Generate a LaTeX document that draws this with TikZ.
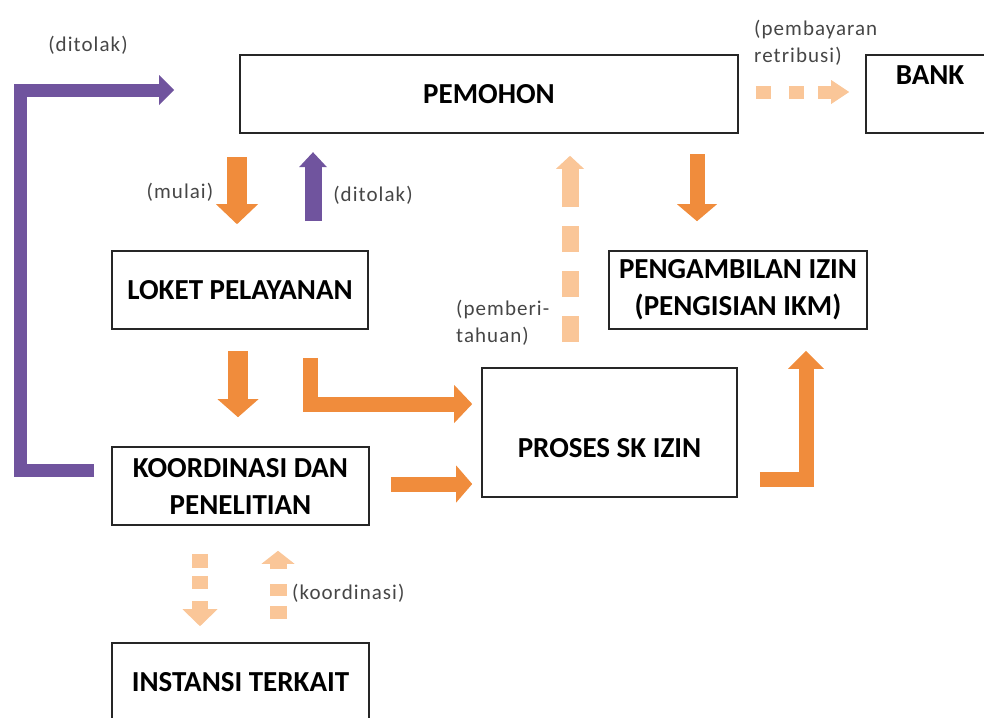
\documentclass[tikz,border=0pt]{standalone}
\usepackage{fontspec}
\usetikzlibrary{arrows.meta, positioning, calc}
\newfontfamily\diagfont{Carlito}
\newfontfamily\notefamily[LetterSpace=5]{Carlito}
\newcommand{\boxtextfont}{\diagfont\bfseries\fontsize{29}{37}\selectfont}
\newcommand{\notetextfont}{\notefamily\fontsize{21}{27}\selectfont}
\definecolor{floworange}{RGB}{240,140,60}
\definecolor{rejectpurple}{RGB}{112,84,158}
\definecolor{noticepeach}{RGB}{250,198,152}
\definecolor{notegray}{RGB}{70,70,70}

\begin{document}
\begin{tikzpicture}[x=1pt, y=-1pt,
    box/.style={draw=black!85, line width=1.6pt, fill=white, align=center,
      font=\boxtextfont, inner sep=2pt},
    note/.style={font=\notetextfont, text=notegray, align=left, inner sep=0pt},
    fat/.style={line width=#1, line cap=butt, line join=miter}]
  \useasboundingbox (0,0) rectangle (984,717);
  % Boxes
  \node[box, minimum width=498pt, minimum height=78pt] (pemohon) at (489,94) {PEMOHON};
  \node[box, minimum width=128pt, minimum height=78pt] (bank) at (930,94) {BANK\\\mbox{}};
  \node[box, minimum width=256pt, minimum height=78pt] (loket) at (240,290) {LOKET PELAYANAN};
  \node[box, minimum width=257pt, minimum height=78pt] (koord) at (240.5,486) {KOORDINASI DAN\\PENELITIAN};
  \node[box, minimum width=257pt, minimum height=78pt] (instansi) at (240.5,682) {INSTANSI TERKAIT};
  \node[box, minimum width=255pt, minimum height=129pt] (proses) at (609.5,432.5) {\mbox{}\\[14pt]PROSES SK IZIN};
  \node[box, minimum width=258pt, minimum height=78pt] (ambil) at (738,290) {PENGAMBILAN IZIN\\(PENGISIAN IKM)};
  % Labels
  \node[note] (tolakatas) at (88,45) {(ditolak)};
  \node[note] (mulai) at (180,192) {(mulai)};
  \node[note] (tolakloket) at (373,195) {(ditolak)};
  \node[note, anchor=west] (bayar) at (754,43) {(pembayaran\\retribusi)};
  \node[note, anchor=west] (beritahu) at (456,323) {(pemberi-\\tahuan)};
  \node[note, anchor=west] (koordtext) at (292,593) {(koordinasi)};
  % Solid flow
  \draw[fat=20pt, floworange, -{Triangle[width=42pt,length=20pt,line width=0pt]}]
    ([shift={(-3,-93)}]loket.north) -- ([shift={(-3,-26)}]loket.north);
  \draw[fat=20pt, floworange, -{Triangle[width=41pt,length=18pt,line width=0pt]}]
    ([shift={(-2,21)}]loket.south) -- ([shift={(-2.5,-29)}]koord.north);
  \draw[fat=15pt, floworange, -{Triangle[width=38pt,length=18pt,line width=0pt]}]
    ([shift={(70,28)}]loket.south) |- ([shift={(-9,-28.5)}]proses.west);
  \draw[fat=15pt, floworange, -{Triangle[width=37pt,length=16pt,line width=0pt]}]
    ([shift={(21,-2)}]koord.east) -- ([shift={(-9,51.5)}]proses.west);
  \draw[fat=15pt, floworange, -{Triangle[width=36pt,length=18pt,line width=0pt]}]
    ([shift={(22,46.5)}]proses.east) -| ([shift={(68,21)}]ambil.south);
  \draw[fat=15pt, floworange, -{Triangle[width=40pt,length=17pt,line width=0pt]}]
    ([shift={(-41,-96)}]ambil.north) -- ([shift={(-41,-29)}]ambil.north);
  % Rejections
  \draw[fat=17pt, rejectpurple, -{Triangle[width=28pt,length=15pt,line width=0pt]}]
    ([shift={(73,-29)}]loket.north) -- ([shift={(73,-98)}]loket.north);
  \draw[fat=13pt, rejectpurple, -{Triangle[width=30pt,length=15pt,line width=0pt]}]
    ([shift={(-17,-16)}]koord.west) -| ([shift={(-219,-4)}]pemohon.west)
    -- ([shift={(-65,-4)}]pemohon.west);
  % Dotted flow
  \draw[fat=17pt, noticepeach, dash pattern=on 26pt off 19pt on 26pt off 19pt on 26pt off 19pt on 40pt off 1pt,
    -{Triangle[width=28pt,length=13pt,line width=0pt]}]
    ([shift={(-39.5,-25)}]proses.north) -- ([shift={(81,22)}]pemohon.south);
  \draw[fat=13pt, noticepeach, dash pattern=on 15pt off 18pt on 15pt off 14pt on 15pt off 1pt,
    -{Triangle[width=24pt,length=18pt,line width=0pt]}]
    ([shift={(17,-2)}]pemohon.east) -- ([shift={(-16,-2)}]bank.west);
  \draw[fat=16pt, noticepeach, dash pattern=on 14pt off 8pt on 13pt off 12pt on 10pt off 1pt,
    -{Triangle[width=35pt,length=17pt,line width=0pt]}]
    ([shift={(-40.5,28)}]koord.south) -- ([shift={(-40.5,-16)}]instansi.north);
  \draw[fat=17pt, noticepeach, dash pattern=on 13pt off 10pt on 12pt off 15pt on 7pt off 1pt,
    -{Triangle[width=33pt,length=13pt,line width=0pt]}]
    ([shift={(37.5,-23)}]instansi.north) -- ([shift={(37.5,25)}]koord.south);
\end{tikzpicture}
\end{document}
